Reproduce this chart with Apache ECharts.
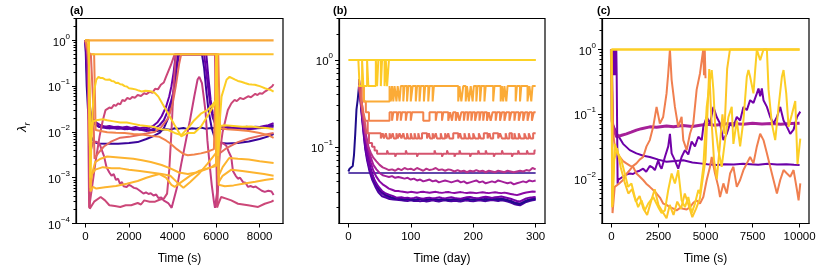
<!DOCTYPE html>
<html><head><meta charset="utf-8">
<script src="https://cdn.jsdelivr.net/npm/echarts@6/dist/echarts.min.js"></script>
<style>html,body{margin:0;padding:0;background:#fff}#c{width:830px;height:277px}</style>
</head><body><div id="c"></div>
<script>
// ---------- tick values ----------
const aXTicks = [0, 2000, 4000, 6000, 8000];
const bXTicks = [0, 100, 200, 300];
const cXTicks = [0, 2500, 5000, 7500, 10000];
const aYMajor = [1e-4, 1e-3, 1e-2, 1e-1, 1];
const bYMajor = [1e-1, 1];
const cYMajor = [1e-2, 1e-1, 1];
const aYMinor = [2e-4,3e-4,4e-4,5e-4,6e-4,7e-4,8e-4,9e-4,2e-3,3e-3,4e-3,5e-3,6e-3,7e-3,8e-3,9e-3,0.02,0.03,0.04,0.05,0.06,0.07,0.08,0.09,0.2,0.3,0.4,0.5,0.6,0.7,0.8,0.9,2,3];
const bYMinor = [0.02,0.03,0.04,0.05,0.06,0.07,0.08,0.09,0.2,0.3,0.4,0.5,0.6,0.7,0.8,0.9,2,3];
const cYMinor = [3e-3,4e-3,5e-3,6e-3,7e-3,8e-3,9e-3,0.02,0.03,0.04,0.05,0.06,0.07,0.08,0.09,0.2,0.3,0.4,0.5,0.6,0.7,0.8,0.9,2,3];

// ---------- panel (a) data: [time s, lambda] ----------
const aTop = [[0,1],[8640,1]];
const aHalf = [[280,0.5],[8640,0.5]];
const aNavyA = [[0,1],[60,0.1],[120,0.03],[200,0.02],[350,0.016],[500,0.014],[700,0.0125],[900,0.013],[1100,0.012],[1300,0.0125],[1500,0.0118],[1700,0.0122],[1900,0.0115],[2100,0.012],[2300,0.0118],[2500,0.0112],[2700,0.0115],[2900,0.0108],[3100,0.0112],[3300,0.0105],[3500,0.011],[3700,0.0115],[3900,0.0112],[4100,0.012],[4300,0.0118],[4500,0.0122],[4700,0.0115],[4900,0.012],[5100,0.0118],[5300,0.0125],[5500,0.0118],[5700,0.012],[5900,0.0122],[6100,0.0118],[6300,0.012],[6500,0.0125],[6700,0.0118],[6900,0.012],[7100,0.0122],[7300,0.0118],[7500,0.0125],[7700,0.012],[7900,0.0122],[8100,0.0125],[8300,0.0128],[8500,0.0135],[8640,0.014]];
const aNavyB = [[0,1],[80,0.3],[150,0.02],[250,0.008],[400,0.006],[600,0.0056],[1000,0.0055],[1500,0.0055],[2000,0.0057],[2400,0.006],[2800,0.007],[3100,0.008],[3400,0.0095],[3600,0.012],[3800,0.02],[3950,0.04],[4050,0.08],[4150,0.2],[4250,0.5],[5350,0.5],[5450,0.25],[5550,0.08],[5650,0.03],[5800,0.012],[5950,0.007],[6100,0.0058],[6500,0.0056],[7000,0.0057],[7500,0.0062],[8000,0.007],[8400,0.008],[8640,0.009]];
const aPurpleC = [[0,1],[100,0.1],[200,0.03],[300,0.02],[500,0.016],[700,0.014],[900,0.013],[1100,0.0135],[1300,0.0128],[1500,0.013],[1700,0.0125],[1900,0.013],[2100,0.0122],[2300,0.0128],[2500,0.012],[2700,0.0125],[2900,0.012],[3100,0.0135],[3300,0.016],[3500,0.022],[3700,0.035],[3850,0.06],[3950,0.1],[4050,0.2],[4150,0.5],[5450,0.5],[5550,0.2],[5650,0.08],[5750,0.035],[5850,0.02],[6000,0.014],[6200,0.013],[6400,0.0125],[6600,0.013],[6800,0.012],[7000,0.0128],[7200,0.0122],[7400,0.013],[7600,0.0125],[7800,0.013],[8000,0.0128],[8200,0.0135],[8400,0.014],[8640,0.0155]];
const aPurpleD = [[0,1],[120,0.08],[250,0.025],[400,0.016],[600,0.013],[800,0.0125],[1000,0.012],[1200,0.0122],[1400,0.0118],[1600,0.012],[1800,0.0115],[2000,0.0118],[2200,0.0112],[2400,0.0115],[2600,0.011],[2800,0.0105],[3000,0.011],[3200,0.012],[3400,0.014],[3600,0.018],[3800,0.03],[3950,0.05],[4100,0.1],[4200,0.25],[4300,0.5],[5550,0.5],[5650,0.15],[5750,0.05],[5850,0.025],[5950,0.015],[6100,0.012],[6300,0.0115],[6500,0.012],[6700,0.0118],[6900,0.0122],[7100,0.0118],[7300,0.012],[7500,0.0115],[7700,0.0118],[7900,0.012],[8100,0.0122],[8300,0.0125],[8500,0.013],[8640,0.013]];
const aPink1 = [[0,1],[100,0.5],[170,0.00022],[300,0.0006],[462,0.0022],[650,0.008],[800,0.018],[924,0.03],[1000,0.028],[1100,0.034],[1200,0.033],[1308,0.039],[1400,0.037],[1500,0.042],[1600,0.04],[1700,0.05],[1800,0.047],[1925,0.055],[2050,0.052],[2150,0.058],[2280,0.056],[2400,0.064],[2550,0.061],[2694,0.07],[2800,0.067],[2950,0.075],[3080,0.072],[3200,0.088],[3330,0.085],[3464,0.107],[3600,0.12],[3700,0.16],[3926,0.29],[4100,0.5],[6000,0.5],[6050,0.00022],[6160,0.0034],[6300,0.01],[6540,0.03],[6620,0.028],[6700,0.042],[6850,0.05],[6950,0.047],[7100,0.055],[7250,0.052],[7470,0.06],[7600,0.057],[7800,0.068],[7900,0.064],[8000,0.07],[8120,0.068],[8240,0.076],[8350,0.082],[8450,0.09],[8560,0.098],[8640,0.11]];
const aPink2 = [[0,1],[150,0.3],[250,0.004],[350,0.006],[508,0.0061],[650,0.0055],[739,0.005],[850,0.003],[970,0.0017],[1100,0.0013],[1200,0.0011],[1300,0.0012],[1400,0.0009],[1500,0.00095],[1585,0.00074],[1680,0.0008],[1750,0.00065],[1893,0.00063],[2000,0.0007],[2100,0.00066],[2230,0.0006],[2355,0.00058],[2500,0.00052],[2580,0.00055],[2665,0.00045],[2780,0.00048],[2900,0.00044],[3000,0.00046],[3127,0.00041],[3250,0.00043],[3350,0.00036],[3480,0.00037],[3589,0.00032],[3800,0.00028],[3960,0.00022],[4200,0.0006],[4400,0.002],[4600,0.006],[4800,0.018],[5000,0.06],[5150,0.14],[5230,0.16],[5350,0.116],[5450,0.05],[5520,0.026],[5600,0.0066],[5700,0.002],[5800,0.0007],[5900,0.0003],[5950,0.00022],[6050,0.0005],[6150,0.003],[6235,0.006],[6350,0.0055],[6466,0.005],[6600,0.0035],[6697,0.0028],[6774,0.0014],[6900,0.0011],[7005,0.00095],[7100,0.001],[7237,0.0008],[7350,0.00078],[7468,0.00063],[7580,0.00066],[7700,0.00062],[7820,0.00064],[7930,0.00059],[8100,0.00052],[8234,0.00049],[8400,0.00052],[8545,0.0005],[8640,0.00042]];
const aPink3 = [[0,1],[120,0.5],[200,0.00021],[400,0.0003],[700,0.00038],[900,0.00032],[1100,0.00025],[1350,0.00024],[1600,0.00023],[1850,0.00025],[2100,0.00025],[2400,0.00028],[2550,0.00026],[2700,0.00032],[2950,0.0003],[3200,0.0003],[3400,0.00033],[3600,0.00035],[3750,0.00045],[3850,0.0015],[3950,0.01],[4050,0.1],[4150,0.5],[5950,0.5],[6050,0.00023],[6235,0.00038],[6466,0.00035],[6697,0.00032],[7005,0.00027],[7468,0.00025],[7930,0.00023],[8234,0.00027],[8545,0.0003],[8640,0.00032]];
const aSalmon = [[0,1],[150,0.5],[250,0.5],[350,0.05],[420,0.0026],[600,0.0035],[850,0.0048],[1200,0.0062],[1600,0.0075],[2000,0.0078],[2400,0.0085],[2800,0.0092],[3200,0.0101],[3500,0.013],[3800,0.02],[4000,0.04],[4150,0.1],[4300,0.3],[4400,0.5],[6000,0.5],[6080,0.01],[6200,0.0035],[6500,0.0045],[7000,0.006],[7500,0.0072],[8000,0.0082],[8400,0.009],[8640,0.0095]];
const aOrange = [[0,1],[200,0.5],[400,0.5],[470,0.011],[700,0.0105],[1000,0.0098],[1400,0.0096],[1800,0.0095],[2200,0.009],[2600,0.0088],[3000,0.0082],[3400,0.0078],[3700,0.0065],[3900,0.0056],[4200,0.0042],[4500,0.0033],[4700,0.0031],[5000,0.0032],[5300,0.0034],[5600,0.0037],[5900,0.0042],[6000,0.5],[6100,0.5],[6180,0.012],[6500,0.0115],[7000,0.011],[7500,0.0105],[8000,0.0095],[8400,0.0085],[8640,0.0074]];
const aYellow1 = [[0,1],[150,1],[230,0.001],[270,0.005],[320,0.026],[400,0.08],[500,0.138],[600,0.16],[700,0.15],[800,0.15],[900,0.14],[1000,0.138],[1100,0.14],[1200,0.13],[1300,0.128],[1400,0.117],[1500,0.118],[1600,0.11],[1700,0.108],[1800,0.1],[1900,0.098],[2000,0.09],[2150,0.088],[2300,0.085],[2450,0.08],[2600,0.076],[2750,0.079],[2900,0.078],[3050,0.076],[3200,0.07],[3350,0.059],[3550,0.04],[3800,0.025],[4100,0.014],[4400,0.008],[4700,0.0095],[5000,0.0095],[5300,0.013],[5600,0.022],[5850,0.035],[6000,0.045],[6020,0.5],[6060,0.5],[6080,0.0044],[6250,0.059],[6480,0.138],[6620,0.16],[6700,0.15],[6850,0.14],[6930,0.142],[7000,0.13],[7150,0.125],[7320,0.117],[7400,0.12],[7500,0.11],[7640,0.108],[7780,0.107],[7900,0.103],[8000,0.1],[8120,0.095],[8240,0.09],[8400,0.085],[8520,0.082],[8640,0.076]];
const aYellow2 = [[0,1],[150,1],[220,0.002],[280,0.01],[350,0.017],[500,0.018],[800,0.019],[1000,0.018],[1300,0.017],[1600,0.016],[1900,0.016],[2200,0.015],[2500,0.014],[2800,0.0135],[3100,0.013],[3464,0.0115],[3800,0.011],[4100,0.0095],[4400,0.0085],[4700,0.012],[5000,0.018],[5300,0.025],[5600,0.03],[5850,0.04],[6000,0.05],[6020,0.5],[6060,0.5],[6090,0.003],[6200,0.0135],[6400,0.014],[6800,0.0135],[7200,0.013],[7600,0.0132],[8000,0.0125],[8400,0.012],[8640,0.0115]];
const aYellow3 = [[0,1],[150,1],[230,0.0008],[300,0.0012],[450,0.0022],[700,0.0026],[1000,0.0029],[1400,0.0028],[1800,0.0027],[2200,0.0026],[2600,0.0024],[3000,0.0022],[3500,0.0019],[3900,0.0016],[4300,0.0013],[4700,0.0012],[5100,0.0013],[5500,0.0015],[5800,0.0017],[6000,0.002],[6020,0.5],[6080,0.5],[6120,0.0011],[6300,0.0017],[6600,0.0027],[7000,0.0026],[7500,0.0025],[8000,0.0023],[8640,0.0021]];
const aYellow4 = [[0,1],[150,1],[230,0.0006],[300,0.0012],[450,0.0015],[800,0.0017],[1200,0.0016],[1600,0.0016],[2000,0.0015],[2500,0.0014],[3000,0.0013],[3500,0.0012],[3900,0.0011],[4200,0.0008],[4500,0.0006],[4800,0.0008],[5200,0.0012],[5600,0.002],[6000,0.0035],[6020,0.5],[6080,0.5],[6120,0.0008],[6300,0.0011],[6700,0.0015],[7200,0.0014],[7700,0.0013],[8200,0.0012],[8640,0.0011]];
const aYellow5 = [[0,1],[150,1],[230,0.0005],[350,0.00063],[500,0.00058],[900,0.00062],[1400,0.00066],[1900,0.00074],[2400,0.00085],[2800,0.001],[3100,0.0011],[3400,0.0012],[3700,0.001],[3950,0.0007],[4100,0.00063],[4400,0.0008],[4800,0.0011],[5200,0.0014],[5600,0.0016],[6000,0.0018],[6020,0.5],[6080,0.5],[6120,0.0007],[6400,0.00065],[6800,0.00068],[7300,0.00075],[7800,0.00082],[8300,0.0009],[8640,0.00095]];

// ---------- panel (b) data: [day, lambda] ----------
const bDaysStart = 80;
const bYellowTop = [[0,1],[300,1]];
const bYellowSwitch = [[16,1],[18,0.5],[22,1],[24,0.5],[30,1],[32,0.5],[44,1],[46,0.5],[48,1],[52,0.5],[54,1],[58,0.5],[60,1],[62,0.5],[65,1],[300,1]];
const bOrange = [[16,0.5],[25,0.333],[66,0.5],[68,0.333],[70,0.5],[72,0.333],[74,0.5],[77,0.333],[79,0.5],[82,0.333],[84,0.5],[88,0.333],[90,0.5],[94,0.333],[96,0.5],[100,0.333],[103,0.5],[108,0.333],[110,0.5],[114,0.333],[116,0.5],[121,0.333],[123,0.5],[128,0.333],[130,0.5],[135,0.333],[137,0.5],[176,0.333],[178,0.5],[181,0.333],[184,0.5],[188,0.333],[190,0.5],[193,0.333],[196,0.5],[199,0.333],[201,0.5],[205,0.333],[207,0.5],[211,0.333],[213,0.5],[218,0.333],[220,0.5],[232,0.333],[234,0.5],[244,0.333],[246,0.5],[248,0.333],[250,0.5],[253,0.333],[255,0.5],[268,0.333],[270,0.5],[275,0.333],[277,0.5],[287,0.333],[290,0.5],[293,0.333],[295,0.5],[300,0.5]];
const bSalmon = [[17,0.5],[24,0.333],[28,0.25],[33,0.2],[66,0.25],[70,0.2],[72,0.25],[78,0.2],[80,0.25],[84,0.2],[86,0.25],[92,0.2],[94,0.25],[100,0.2],[102,0.25],[120,0.2],[130,0.25],[140,0.2],[142,0.25],[150,0.2],[152,0.25],[160,0.2],[163,0.25],[166,0.2],[168,0.25],[172,0.2],[175,0.25],[178,0.2],[181,0.25],[185,0.2],[187,0.25],[191,0.2],[193,0.25],[197,0.2],[199,0.25],[203,0.2],[206,0.25],[210,0.2],[212,0.25],[216,0.2],[218,0.25],[222,0.2],[225,0.25],[228,0.2],[231,0.25],[236,0.2],[238,0.25],[243,0.2],[246,0.25],[250,0.2],[253,0.25],[258,0.2],[261,0.25],[266,0.2],[268,0.25],[273,0.2],[276,0.25],[280,0.2],[283,0.25],[287,0.2],[290,0.25],[294,0.2],[297,0.25],[300,0.25]];
const bCoral = [[17,0.5],[21,0.333],[24,0.25],[27,0.2],[31,0.143],[52,0.125],[55,0.143],[57,0.125],[60,0.143],[62,0.125],[66,0.143],[68,0.125],[71,0.143],[73,0.125],[77,0.143],[79,0.125],[82,0.143],[85,0.125],[88,0.143],[90,0.125],[94,0.143],[96,0.125],[100,0.143],[102,0.125],[106,0.143],[108,0.125],[112,0.143],[114,0.125],[118,0.143],[126,0.125],[129,0.143],[131,0.125],[135,0.143],[137,0.125],[140,0.143],[142,0.125],[148,0.143],[150,0.125],[155,0.143],[157,0.125],[160,0.143],[162,0.125],[168,0.143],[176,0.125],[179,0.143],[181,0.125],[186,0.143],[188,0.125],[193,0.143],[195,0.125],[200,0.143],[203,0.125],[209,0.143],[212,0.125],[217,0.143],[223,0.125],[226,0.143],[228,0.125],[232,0.143],[240,0.125],[243,0.143],[246,0.125],[252,0.143],[254,0.125],[258,0.143],[262,0.125],[266,0.143],[268,0.125],[273,0.143],[276,0.125],[282,0.143],[285,0.125],[289,0.143],[292,0.125],[296,0.143],[300,0.143]];
const bPink = [[17,0.5],[20,0.333],[23,0.25],[26,0.2],[29,0.143],[33,0.111],[38,0.1],[42,0.091],[46,0.083],[62,0.091],[64,0.083],[75,0.077],[77,0.083],[92,0.091],[94,0.083],[110,0.077],[112,0.083],[138,0.091],[140,0.083],[150,0.077],[152,0.083],[158,0.091],[160,0.083],[170,0.077],[172,0.083],[178,0.091],[180,0.083],[195,0.077],[197,0.083],[208,0.091],[210,0.083],[220,0.091],[222,0.083],[233,0.077],[235,0.083],[246,0.091],[248,0.083],[262,0.077],[264,0.083],[272,0.091],[274,0.083],[286,0.091],[288,0.083],[298,0.091],[300,0.091]];
const bMagPink = [[17,0.5],[19,0.4],[22,0.25],[25,0.17],[28,0.13],[32,0.1],[36,0.085],[40,0.075],[45,0.068],[50,0.062],[55,0.058],[60,0.056],[65,0.054],[70,0.055],[75,0.053],[80,0.056],[85,0.054],[90,0.057],[95,0.055],[100,0.056],[105,0.054],[110,0.057],[115,0.055],[120,0.053],[125,0.056],[130,0.054],[135,0.055],[140,0.057],[145,0.054],[150,0.055],[155,0.053],[160,0.055],[165,0.054],[170,0.052],[175,0.054],[180,0.052],[185,0.053],[190,0.051],[195,0.053],[200,0.052],[205,0.054],[210,0.052],[215,0.053],[220,0.051],[225,0.053],[230,0.052],[235,0.051],[240,0.053],[245,0.052],[250,0.051],[255,0.053],[260,0.052],[265,0.051],[270,0.052],[275,0.053],[280,0.052],[285,0.054],[290,0.053],[295,0.057],[300,0.055]];
const bNavyFlat = [[0,0.05],[300,0.05]];
const bNavyHead = [[0,0.052],[2,0.056],[4,0.058],[5,0.055],[7,0.06],[9,0.08],[11,0.14],[13,0.27],[15,0.35],[17,0.5],[19,0.45],[21,0.3],[24,0.18],[27,0.12],[31,0.08],[36,0.055],[42,0.04],[50,0.032],[60,0.028],[70,0.026],[75,0.0255]];
const bNavyTail = [0.0255,0.025,0.0247,0.0252,0.0248,0.0245,0.0249,0.0252,0.0248,0.0246,0.025,0.0253,0.0249,0.0246,0.025,0.0247,0.0244,0.0248,0.0251,0.0247,0.0245,0.0249,0.0252,0.0248,0.0246,0.0249,0.0253,0.0249,0.0246,0.025,0.0253,0.025,0.0247,0.0251,0.0247,0.0242,0.0236,0.0228,0.0222,0.022,0.0228,0.0238,0.0245,0.0249,0.0253];
const b040Head = [[17,0.6],[19,0.45],[22,0.3],[25,0.2],[28,0.14],[32,0.1],[36,0.075],[40,0.062],[45,0.055],[50,0.05],[55,0.047],[60,0.046],[65,0.045],[70,0.046],[75,0.044]];
const b040Tail = [0.045,0.044,0.043,0.044,0.042,0.043,0.041,0.042,0.04,0.041,0.042,0.04,0.041,0.039,0.04,0.041,0.04,0.039,0.04,0.041,0.039,0.04,0.038,0.039,0.04,0.041,0.039,0.04,0.038,0.039,0.04,0.039,0.041,0.04,0.039,0.038,0.039,0.037,0.038,0.039,0.04,0.039,0.041,0.04,0.041];
const b030Head = [[17,0.6],[19,0.42],[22,0.27],[25,0.17],[28,0.12],[32,0.085],[36,0.065],[40,0.053],[45,0.045],[50,0.04],[55,0.037],[60,0.035],[65,0.033],[70,0.032],[75,0.031]];
const b030Tail = [0.031,0.0305,0.0302,0.0298,0.0303,0.03,0.0296,0.0301,0.0304,0.0299,0.0296,0.03,0.0303,0.0298,0.0295,0.0299,0.0302,0.0297,0.0294,0.0298,0.0301,0.0297,0.0294,0.0298,0.0296,0.0293,0.0297,0.03,0.0296,0.0293,0.0297,0.03,0.0296,0.0293,0.0297,0.0292,0.0287,0.0282,0.0278,0.0285,0.0292,0.0298,0.0302,0.0305,0.0303];
const b027Head = [[17,0.55],[19,0.4],[21,0.28],[24,0.17],[27,0.11],[30,0.08],[34,0.06],[38,0.048],[43,0.04],[48,0.035],[54,0.031],[60,0.029],[66,0.028],[72,0.027],[77,0.026]];
const b027Tail = [0.0265,0.0262,0.0258,0.026,0.0255,0.0258,0.0262,0.0256,0.0252,0.0258,0.026,0.0255,0.0257,0.0262,0.0258,0.0255,0.026,0.0263,0.0258,0.0255,0.0252,0.0258,0.0262,0.0265,0.026,0.0256,0.0258,0.0262,0.0266,0.0262,0.0258,0.0262,0.0265,0.0268,0.0263,0.0258,0.0252,0.0245,0.0238,0.0235,0.0245,0.0255,0.026,0.0262,0.0265];
const b025Head = [[17,0.5],[19,0.38],[21,0.26],[24,0.16],[27,0.1],[30,0.075],[34,0.055],[38,0.045],[43,0.037],[48,0.032],[54,0.029],[60,0.027],[66,0.026],[72,0.0258],[77,0.0256]];
const b025Tail = [0.0255,0.0252,0.0248,0.0245,0.0248,0.0244,0.0246,0.025,0.0245,0.0242,0.0246,0.0248,0.0244,0.0242,0.0246,0.025,0.0247,0.0244,0.0242,0.0246,0.0249,0.0246,0.0243,0.0247,0.025,0.0246,0.0244,0.0248,0.0252,0.0248,0.0245,0.0249,0.0252,0.0255,0.025,0.0245,0.024,0.0232,0.0225,0.0222,0.0232,0.0242,0.0248,0.0252,0.0255];
const b024Head = [[17,0.5],[19,0.36],[21,0.25],[24,0.15],[27,0.095],[30,0.07],[34,0.052],[38,0.042],[43,0.035],[48,0.03],[54,0.027],[60,0.026],[66,0.025],[72,0.0248],[77,0.0246]];
const b024Tail = [0.0245,0.0242,0.024,0.0238,0.0242,0.0238,0.024,0.0236,0.0239,0.0235,0.0238,0.0242,0.0238,0.0235,0.0239,0.0242,0.0238,0.0236,0.024,0.0237,0.0235,0.0239,0.0242,0.0238,0.0236,0.024,0.0243,0.0239,0.0237,0.0241,0.0244,0.0241,0.0238,0.0242,0.0239,0.0234,0.0228,0.022,0.0215,0.0212,0.0222,0.0232,0.0238,0.0242,0.0246];

// ---------- panel (c) data: [time s, lambda] ----------
const cTop = [[0,1],[10000,1]];
const cMagenta = [[0,1],[40,0.08],[85,0.064],[266,0.045],[500,0.047],[800,0.05],[1050,0.053],[1330,0.057],[1600,0.06],[2040,0.064],[2400,0.063],[2930,0.066],[3300,0.064],[3800,0.067],[4300,0.065],[4710,0.068],[5100,0.07],[5500,0.068],[6000,0.071],[6470,0.072],[7000,0.07],[7500,0.073],[8000,0.071],[8500,0.072],[9000,0.07],[9500,0.072],[10000,0.073]];
const cPurpleDown = [[0,1],[60,0.072],[300,0.05],[620,0.035],[975,0.028],[1330,0.025],[1700,0.023],[2040,0.022],[2500,0.02],[2930,0.0185],[3400,0.019],[3820,0.0195],[4300,0.018],[4710,0.0175],[5100,0.017],[5600,0.0165],[6000,0.017],[6500,0.0168],[7000,0.0172],[7380,0.017],[7800,0.0166],[8300,0.0172],[8800,0.0168],[9300,0.017],[9700,0.0166],[10000,0.0165]];
const cPurpleUp = [[0,1],[100,1],[120,0.4],[140,1],[160,0.4],[180,1],[200,0.4],[220,1],[240,0.4],[260,1],[280,0.4],[300,0.4],[330,0.0085],[355,0.0097],[620,0.011],[800,0.0118],[975,0.0122],[1150,0.012],[1330,0.013],[1500,0.0135],[1687,0.0145],[1850,0.013],[2040,0.016],[2200,0.015],[2310,0.0138],[2488,0.0195],[2580,0.016],[2666,0.0145],[2843,0.022],[3020,0.032],[3110,0.05],[3200,0.025],[3375,0.0195],[3550,0.0145],[3730,0.022],[3908,0.028],[4086,0.024],[4264,0.038],[4440,0.032],[4620,0.045],[4800,0.04],[4884,0.064],[5064,0.091],[5240,0.072],[5418,0.13],[5594,0.091],[5773,0.072],[5950,0.04],[6130,0.05],[6306,0.072],[6482,0.064],[6663,0.091],[6840,0.08],[7015,0.13],[7196,0.116],[7372,0.165],[7548,0.15],[7729,0.21],[7817,0.25],[7905,0.19],[7993,0.25],[8081,0.165],[8262,0.13],[8438,0.091],[8614,0.072],[8795,0.091],[8971,0.13],[9147,0.08],[9328,0.064],[9504,0.05],[9680,0.058],[9861,0.091],[10037,0.11]];
const cCoralHigh = [[0,1],[60,0.003],[176,0.0076],[400,0.0085],[620,0.0097],[800,0.012],[975,0.0138],[1150,0.016],[1330,0.0175],[1500,0.02],[1687,0.022],[1865,0.032],[2040,0.04],[2220,0.064],[2400,0.13],[2575,0.072],[2750,0.091],[2930,0.21],[3020,0.43],[3110,1],[3200,0.34],[3375,0.13],[3550,0.064],[3730,0.091],[3820,0.04],[4000,0.028],[4175,0.05],[4350,0.072],[4530,0.24],[4710,0.43],[4800,0.68],[4880,1],[4920,0.4],[4960,1],[5000,0.36]];
const cCoralLow = [[0,1],[100,0.05],[176,0.032],[300,0.026],[443,0.022],[620,0.019],[797,0.0175],[1000,0.016],[1150,0.0155],[1330,0.0122],[1500,0.011],[1687,0.0097],[1850,0.0085],[2040,0.0076],[2220,0.0068],[2400,0.006],[2580,0.0052],[2750,0.0042],[2930,0.004],[3110,0.0037],[3300,0.0035],[3465,0.0033],[3650,0.0036],[3820,0.0035],[4000,0.0034],[4175,0.0037],[4350,0.0043],[4530,0.0047],[4707,0.0042],[4884,0.0053],[5064,0.0097],[5240,0.0155],[5330,0.022],[5506,0.0122],[5682,0.0076],[5773,0.0053],[5950,0.0086],[6130,0.006],[6306,0.0122],[6482,0.0155],[6663,0.0076],[6840,0.0097],[7015,0.0138],[7196,0.0175],[7372,0.022],[7548,0.0175],[7729,0.032],[7905,0.05],[8081,0.04],[8262,0.025],[8438,0.0155],[8614,0.0097],[8795,0.006],[8971,0.0097],[9147,0.0138],[9328,0.0122],[9504,0.0109],[9680,0.0138],[9861,0.0068],[9947,0.0047],[10037,0.0086]];
const cYellowA = [[0,1],[40,0.0037],[176,0.035],[355,0.025],[530,0.0195],[710,0.0122],[887,0.0076],[1065,0.0086],[1243,0.0053],[1420,0.0037],[1600,0.0047],[1776,0.0033],[1954,0.0042],[2220,0.0053],[2488,0.0037],[2666,0.003],[2843,0.0033],[3020,0.0068],[3200,0.0122],[3375,0.0086],[3550,0.0138],[3730,0.0047],[3908,0.0037],[4086,0.0053],[4264,0.003],[4440,0.0042],[4620,0.0068],[4707,0.006],[4884,0.0155],[5064,0.13],[5240,0.34],[5330,0.48],[5418,0.24],[5506,0.072],[5682,0.028],[5860,0.0155],[6040,0.04],[6218,0.091],[6394,0.13],[6482,0.035],[6663,0.08],[6840,0.032],[7015,0.08],[7196,0.38],[7283,0.48],[7372,0.38],[7548,0.21],[7640,0.48],[7729,1],[7905,0.68],[8081,1],[8262,1],[8350,0.24],[8526,0.072],[8705,0.04],[8882,0.13],[9060,0.38],[9147,0.48],[9290,0.21],[9416,0.064],[9592,0.1],[9770,0.16],[9890,0.017],[10037,0.042]];
const cYellowB = [[0,1],[60,0.004],[150,0.02],[300,0.03],[500,0.015],[700,0.009],[900,0.006],[1100,0.007],[1300,0.0045],[1500,0.0055],[1700,0.0035],[1900,0.0028],[2100,0.0045],[2300,0.007],[2500,0.004],[2700,0.0032],[2930,0.0025],[3100,0.004],[3300,0.0028],[3500,0.0045],[3700,0.0035],[3900,0.006],[4100,0.004],[4300,0.0026],[4500,0.0035],[4700,0.005],[4850,0.01],[5000,0.02],[5100,0.1],[5200,0.5],[5300,0.1],[5450,0.02],[5600,0.01],[5750,0.03],[5900,0.1],[6000,0.05],[6150,0.5],[6300,1],[10000,1]];

// ---------- build ----------
const FONT = "'Liberation Sans', Arial, Helvetica, sans-serif";
function withTail(head, tail) {
  const out = head.slice();
  tail.forEach((v, i) => out.push([bDaysStart + 5 * i, v]));
  return out;
}
function line(data, color, xi, width, step) {
  return { type: 'line', data, xAxisIndex: xi, yAxisIndex: xi * 2, showSymbol: false, symbol: 'none',
    step: step ? 'end' : false, lineStyle: { color, width: width || 2 }, itemStyle: { color },
    animation: false, silent: true, clip: true };
}
function expFmt(v) {
  const e = Math.round(Math.log10(v));
  return '{b|10}{e|' + (e < 0 ? '\u2212' + (-e) : String(e)) + '}';
}
const rich = { b: { fontFamily: FONT, fontSize: 11.5, color: '#000', lineHeight: 16, verticalAlign: 'bottom' },
               e: { fontFamily: FONT, fontSize: 8, color: '#000', lineHeight: 16, verticalAlign: 'top' } };
function yAxes(gi, min, max, major, minor) {
  return [
    { type: 'log', logBase: 10, gridIndex: gi, min, max, position: 'left',
      axisLine: { show: true, onZero: false, lineStyle: { color: '#000', width: 1.2 } },
      axisTick: { show: true, customValues: major, length: 4, lineStyle: { color: '#000', width: 1 } },
      axisLabel: { customValues: major, formatter: expFmt, rich, margin: 6 },
      splitLine: { show: false } },
    { type: 'log', logBase: 10, gridIndex: gi, min, max, position: 'left',
      axisLine: { show: false, onZero: false },
      axisTick: { show: true, customValues: minor, length: 2.5, lineStyle: { color: '#000', width: 1 } },
      axisLabel: { show: false }, splitLine: { show: false } }
  ];
}
function xAxis(gi, min, max, ticks, name) {
  return { type: 'value', gridIndex: gi, min, max, name, nameLocation: 'middle', nameGap: 29, position: 'bottom',
    nameTextStyle: { fontFamily: FONT, fontSize: 12, color: '#000' },
    axisLine: { show: true, onZero: false, lineStyle: { color: '#000', width: 1.2 } },
    axisTick: { show: true, customValues: ticks, length: 4, lineStyle: { color: '#000' } },
    axisLabel: { customValues: ticks, formatter: (v) => String(v), fontFamily: FONT, fontSize: 11.5, color: '#000', margin: 7 },
    splitLine: { show: false } };
}
const gridBase = { top: 18.5, bottom: 53.5, show: true, borderColor: '#000', borderWidth: 1.2, backgroundColor: 'transparent' };

const C = { navy: '#2a0593', navy2: '#3b049a', purple: '#6a00a8', purple2: '#5c01a6', pink: '#cc4778', pink2: '#c43e7f', salmon: '#e56b5d', orange: '#f2844b', yellow: '#fcce25', yellow2: '#fdb42f' };

const series = [
  // panel a
  line(aNavyB, C.navy2, 0), line(aNavyA, C.navy, 0), line(aPurpleC, C.purple, 0), line(aPurpleD, C.purple2, 0),
  line(aPink3, C.pink, 0), line(aPink2, C.pink2, 0), line(aPink1, C.pink, 0),
  line(aSalmon, C.salmon, 0), line(aOrange, C.orange, 0),
  line(aYellow5, C.yellow2, 0), line(aYellow4, C.yellow2, 0), line(aYellow3, C.yellow2, 0),
  line(aYellow2, C.yellow, 0), line(aYellow1, C.yellow, 0),
  line(aHalf, '#fdc12b', 0, 2), line(aTop, '#f9a83a', 0, 2.4),
  // panel b
  line(bNavyFlat, '#2d0a91', 1, 1.4),
  line(withTail(b024Head, b024Tail), '#4a02a0', 1), line(withTail(b025Head, b025Tail), '#5d01a6', 1),
  line(withTail(bNavyHead, bNavyTail), '#1f0c8b', 1),
  line(withTail(b027Head, b027Tail), '#7201a8', 1), line(withTail(b030Head, b030Tail), '#8b0aa5', 1),
  line(withTail(b040Head, b040Tail), '#a31e9a', 1), line(bMagPink, '#b8328a', 1),
  line(bPink, '#d5546e', 1, 2, true), line(bCoral, '#e66c5c', 1, 2, true),
  line(bSalmon, '#f3854b', 1, 2, true), line(bOrange, '#fbab37', 1, 2, true),
  line(bYellowSwitch, '#fdca26', 1, 2, true), line(bYellowTop, '#fcd225', 1, 2),
  // panel c
  line(cPurpleDown, '#6a00a8', 2), line(cMagenta, '#a62098', 2, 3), line(cPurpleUp, '#7201a8', 2),
  line(cCoralLow, '#f07f4f', 2), line(cCoralHigh, '#f07f4f', 2),
  line(cYellowB, '#fdc527', 2), line(cYellowA, '#fcce25', 2),
  line(cTop, '#fcce25', 2, 2.4)
];

const option = {
  animation: false,
  backgroundColor: '#fff',
  textStyle: { fontFamily: FONT },
  grid: [
    Object.assign({ left: 76, right: 547 }, gridBase),
    Object.assign({ left: 339, right: 285 }, gridBase),
    Object.assign({ left: 602, right: 21 }, gridBase)
  ],
  xAxis: [
    xAxis(0, -432, 9072, aXTicks, 'Time (s)'),
    xAxis(1, -15, 315, bXTicks, 'Time (day)'),
    xAxis(2, -500, 10500, cXTicks, 'Time (s)')
  ],
  yAxis: [].concat(
    yAxes(0, 1e-4, 3.0, aYMajor, aYMinor),
    yAxes(1, 0.0131, 3.0, bYMajor, bYMinor),
    yAxes(2, 0.00207, 3.0, cYMajor, cYMinor)
  ),
  series,
  graphic: [
    { type: 'text', left: 70, top: 5, style: { text: '(a)', font: 'bold 11px ' + FONT, fill: '#000' } },
    { type: 'text', left: 333, top: 5, style: { text: '(b)', font: 'bold 11px ' + FONT, fill: '#000' } },
    { type: 'text', left: 597, top: 5, style: { text: '(c)', font: 'bold 11px ' + FONT, fill: '#000' } },
    { type: 'text', x: 16, y: 132, rotation: Math.PI / 2,
      style: { text: '{l|\u03bb}{s|r}', rich: { l: { fontFamily: FONT, fontStyle: 'italic', fontSize: 13, lineHeight: 16, verticalAlign: 'top' }, s: { fontFamily: FONT, fontStyle: 'italic', fontSize: 9, lineHeight: 16, verticalAlign: 'bottom' } }, fill: '#000' } }
  ]
};
const chart = echarts.init(document.getElementById('c'), null, { renderer: 'canvas', width: 830, height: 277 });
chart.setOption(option);
</script></body></html>
